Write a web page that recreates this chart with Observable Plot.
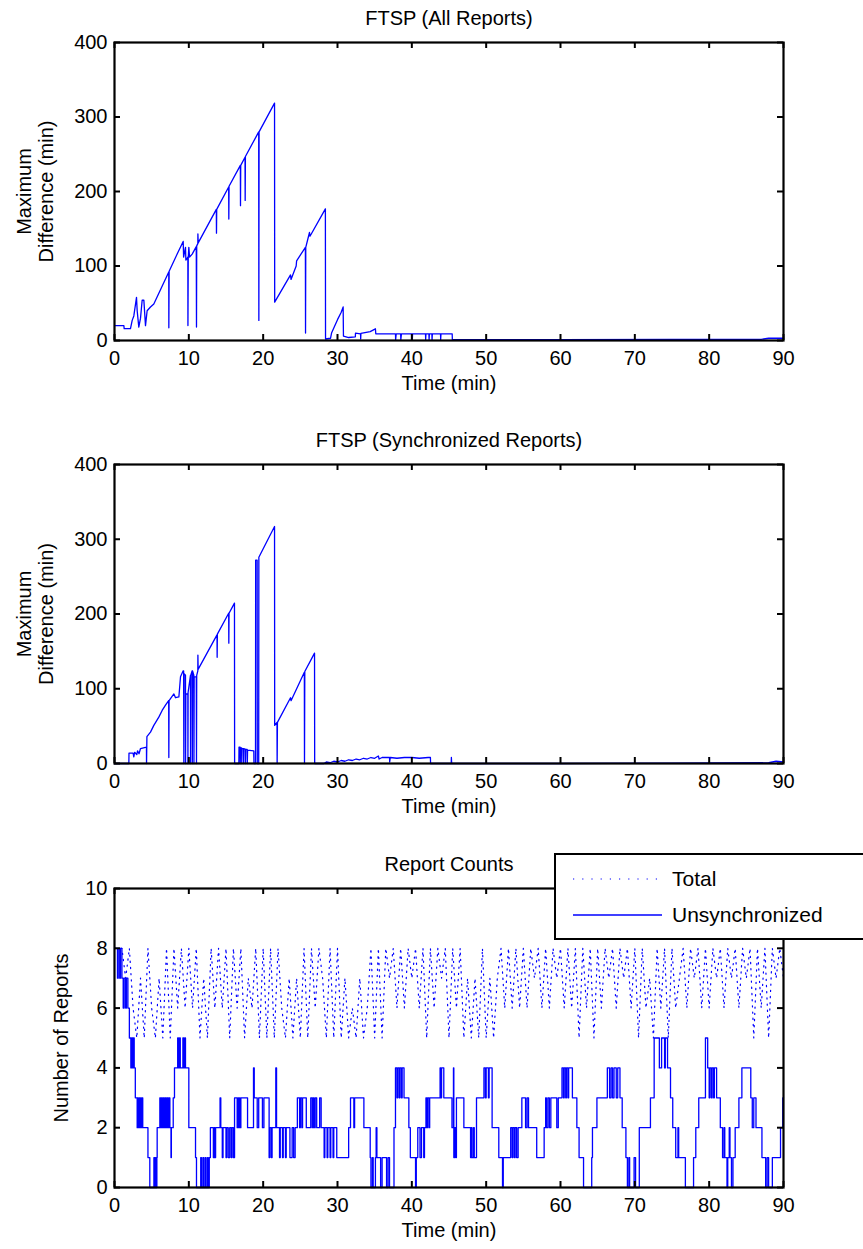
<!DOCTYPE html>
<html><head><meta charset="utf-8">
<script src="https://cdn.jsdelivr.net/npm/d3@7"></script>
<script src="https://cdn.jsdelivr.net/npm/@observablehq/plot@0.6"></script>
<style>
body{margin:0;background:#fff;overflow:hidden}
#wrap{position:relative;width:863px;height:1249px;overflow:hidden;font-family:"Liberation Sans",Arial,sans-serif;color:#000}
#wrap svg{display:block}
#legend{position:absolute;left:554px;top:853px;width:330px;height:83px;border:2px solid #000;background:#fff;font-size:21px}
#legend span{position:absolute;left:116px;line-height:22px;white-space:nowrap}
</style></head><body><div id="wrap"></div>
<script>
// ---- data ----
const xTicks = [0, 10, 20, 30, 40, 50, 60, 70, 80, 90];
const diffTicks = [0, 100, 200, 300, 400];
const countTicks = [0, 2, 4, 6, 8, 10];

// FTSP (All Reports): [time (min), max difference (min)]
const allReports = [
  [0,20],[1.26,20],[1.3,16],[2.15,16],[2.38,27],[2.6,33],[2.96,58],[3.05,40],[3.27,18],[3.5,30],[3.72,54],[3.95,54],
  [4.17,20],[4.39,40],[4.84,45],[5.29,49],[7.3,92],[7.31,17],[7.35,93],[8.43,116],[9.24,133],[9.3,112],[9.55,125],
  [9.6,108],[9.87,112],[9.88,20],[9.92,110],[10.0,125],[10.1,112],[10.45,116],[11.0,126],[11.03,18],[11.06,127],
  [11.21,130],[11.22,143],[11.26,131],[13.7,176],[13.72,144],[13.75,176],[15.36,206],[15.38,163],[15.41,207],
  [16.93,235],[16.95,181],[16.98,235],[17.56,246],[17.58,188],[17.61,247],[19.4,280],[19.42,27],[19.45,280],
  [21.53,318.6],[21.55,51.5],[23.68,88],[23.75,82],[24.44,100],[24.5,107],[25.68,125],[25.7,10],[25.73,125],
  [26.23,145],[26.3,140],[28.37,176.7],[28.39,2],[29.06,3],[29.2,10],[30.0,28],[30.5,38],[30.76,45],[30.8,6],
  [31.5,4],[32.4,5],[32.42,9.8],[33.1,9],[33.12,2],[33.15,9.5],[34.4,12],[35.1,15.7],[35.15,9],[37.8,9],[37.82,1],
  [37.9,9],[38.5,9],[38.52,1],[38.6,9],[40.05,9],[40.07,1],[40.1,9],[41.84,9],[41.86,1],[41.9,9],[42.3,9],[42.32,1],
  [42.36,9],[42.7,9],[42.72,1],[42.76,9],[43.86,9],[43.88,1],[43.92,9],[45.43,9],[45.45,1],[60,1],[75,1.5],[87,1.5],
  [88,3],[90,3]
];

// FTSP (Synchronized Reports)
const syncReports = [
  [0,0],[1.93,0],[1.95,14],[2.5,14],[2.6,9],[2.7,15],[3.0,12],[3.1,17],[3.3,13],[3.5,20],[4.3,22],[4.31,0],[4.36,36],
  [4.84,42],[5.29,51],[5.96,62],[6.41,71],[6.86,78],[7.29,84],[7.31,8],[7.34,84],[7.99,93],[8.21,88],[8.66,89],
  [8.88,116],[9.24,124],[9.3,124],[9.33,0],[9.36,120],[9.55,118],[9.56,0],[9.6,93],[9.87,93],[9.88,0],[9.9,95],
  [10.22,118],[10.23,0],[10.26,118],[10.45,124],[10.47,0],[10.5,124],[10.67,118],[10.69,0],[10.72,116],[11.0,116],
  [11.03,0],[11.06,118],[11.21,124],[11.22,145],[11.25,126],[13.79,172],[13.81,142],[13.84,173],[15.36,201],
  [15.38,161],[15.41,201],[16.14,214.5],[16.16,0],[16.73,0],[16.75,22],[16.9,22],[16.92,0],[16.95,21],[17.1,21],
  [17.12,0],[17.15,20],[17.35,20],[17.37,0],[17.4,20],[17.6,19],[17.62,0],[17.65,19],[17.85,19],[17.87,0],[17.9,18],
  [18.74,17],[18.76,0],[18.97,0],[18.99,272],[19.19,272],[19.21,0],[19.4,0],[19.42,276],[21.53,317],[21.55,51],
  [21.86,55],[21.88,0],[21.92,55],[23.68,88],[23.75,84],[25.54,122],[25.56,0],[25.6,123],[26.91,147.6],[26.93,0],
  [28.17,0],[28.5,2],[29,1],[29.5,3],[30,2],[30.5,4],[31,3],[31.5,5],[32,4],[32.5,6],[33,5],[33.5,7],[34,6],[34.5,8],
  [35,7],[35.5,10],[35.6,6],[36,8],[37,8],[37.02,2],[37.1,8],[38,7],[39,8],[40,8],[41,7],[42.2,8],[42.5,8],[42.52,0],
  [45.3,0],[45.32,8],[45.36,0],[60,0],[75,0.5],[88,1],[89,3],[90,2]
];

// Report Counts: unsynchronized (stepped) [time, count]
const unsynchronized = [
  [0,8],[0.4,7],[0.5,8],[0.7,7],[0.8,8],[1.0,7],[1.17,6],[1.3,7],[1.5,6],[1.6,7],[1.8,6],[2.0,5],[2.2,4],[2.3,5],
  [2.45,4],[2.55,5],[2.65,4],[2.8,3],[3.05,2],[3.1,3],[3.2,2],[3.3,3],[3.4,2],[3.5,3],[3.6,2],[3.7,3],[3.8,2],
  [4.5,1],[4.75,0],[5.3,1],[5.4,0],[5.5,1],[5.6,0],[5.7,1],[5.74,2],[6.1,3],[6.2,2],[6.3,3],[6.45,2],[6.55,3],
  [6.7,2],[6.8,3],[6.95,2],[7.05,3],[7.2,2],[7.3,3],[7.45,2],[7.6,1],[7.65,2],[7.9,3],[8.07,4],[8.5,5],[8.6,4],
  [8.75,5],[8.85,4],[9.2,5],[9.3,4],[9.45,5],[9.55,4],[10.0,2],[10.9,1],[11.03,0],[11.6,1],[11.7,0],[11.9,1],
  [12.0,0],[12.2,1],[12.3,0],[12.5,1],[12.6,0],[12.75,1],[12.9,2],[13.3,1],[13.4,2],[13.5,1],[13.6,2],[14.2,3],
  [14.3,2],[14.5,1],[14.6,2],[15.0,1],[15.1,2],[15.3,1],[15.5,2],[15.7,1],[15.8,2],[16.0,1],[16.15,3],[16.5,2],
  [16.6,3],[16.7,2],[16.8,3],[16.9,2],[17.0,3],[17.9,2],[18.7,4],[18.8,3],[19.2,2],[19.4,3],[19.9,2],[20.1,3],
  [20.8,1],[20.9,2],[21.1,1],[21.2,2],[21.7,4],[21.8,2],[22.2,1],[22.3,2],[22.6,1],[22.7,2],[23.0,1],[23.1,2],
  [23.6,1],[23.9,2],[24.1,1],[24.3,2],[24.6,3],[24.9,2],[25.0,3],[25.2,2],[25.3,3],[25.8,2],[26.4,3],[26.6,2],
  [26.7,3],[26.85,2],[27.0,3],[27.2,2],[27.6,3],[27.8,2],[28.2,1],[28.3,2],[28.6,1],[28.7,2],[29.0,1],[29.1,2],
  [29.4,1],[29.5,2],[29.9,1],[31.5,2],[31.75,3],[32.2,2],[32.3,3],[33.55,2],[34.4,1],[34.5,0],[34.7,1],[34.8,0],
  [35.1,1],[35.2,2],[35.3,1],[35.8,0],[36.0,1],[36.6,0],[36.8,1],[37.0,0],[37.6,2],[37.8,4],[38.0,3],[38.1,4],
  [38.3,3],[38.4,4],[38.6,3],[38.7,4],[38.95,3],[39.6,2],[39.8,1],[40.5,0],[40.6,1],[40.8,2],[41.1,1],[41.3,2],
  [41.6,1],[41.7,2],[41.9,3],[42.0,2],[42.1,3],[42.3,2],[42.4,3],[43.8,4],[43.9,3],[44.0,4],[44.3,3],[45.4,2],
  [45.6,4],[45.65,1],[45.75,2],[45.9,1],[46.0,3],[47.0,2],[47.9,1],[48.0,2],[48.1,1],[48.3,2],[48.4,1],[48.7,3],
  [49.7,4],[49.9,3],[50.0,4],[50.3,3],[50.4,4],[50.8,2],[51.7,1],[52.2,0],[52.3,1],[53.3,2],[53.5,1],[53.6,2],
  [53.8,1],[53.9,2],[54.1,1],[54.3,2],[54.8,3],[55.3,2],[55.5,3],[55.7,2],[56.8,1],[57.8,2],[58.0,3],[58.1,2],
  [58.3,3],[58.5,2],[58.7,3],[59.5,2],[59.7,3],[60.2,4],[60.4,3],[60.5,4],[60.7,3],[60.8,4],[61.0,3],[61.1,4],
  [61.6,3],[62.2,2],[62.5,1],[63.1,0],[64.2,1],[64.3,2],[64.9,3],[66.3,4],[66.6,3],[66.8,4],[67.0,3],[67.2,4],
  [67.5,3],[67.7,4],[68.0,3],[68.3,2],[68.8,1],[69.0,0],[69.2,1],[69.3,0],[69.9,1],[70.1,0],[70.6,2],[72.1,3],
  [72.6,5],[73.3,4],[73.6,5],[74.0,4],[74.1,5],[74.4,4],[74.8,3],[75.1,2],[75.5,1],[75.8,2],[75.9,1],[76.8,0],
  [77.9,1],[78.2,2],[78.6,3],[79.5,5],[79.8,4],[80.0,3],[80.1,4],[80.3,3],[80.4,4],[80.6,3],[80.7,4],[81.0,3],
  [81.5,2],[81.8,1],[82.0,2],[82.1,1],[82.4,0],[82.5,1],[82.7,2],[82.8,1],[83.0,0],[83.2,1],[83.5,2],[84.0,3],
  [84.4,4],[85.6,3],[85.8,2],[86.0,3],[86.3,2],[87.1,1],[87.6,0],[87.8,1],[88.0,0],[88.5,1],[89.6,2],[89.9,3],[90,3]
];

// Report Counts: total, sampled every half minute from t = 0
const totalStep = 0.5;
const totalCounts = [
  8,8,8,7,8,6,5,7,5,8,  6,5,7,5,8,5,8,6,8,6,  8,6,8,5,7,5,8,6,8,6,  8,5,8,6,8,5,7,6,8,5,
  8,5,8,5,8,6,5,7,5,7,  5,8,5,8,6,8,7,5,8,5,  8,5,7,5,6,5,7,5,6,8,  5,8,5,8,7,8,6,8,6,8,
  7,8,6,8,5,8,6,8,7,8,  5,8,6,8,5,7,5,7,5,8,  5,7,5,7,8,6,8,6,8,6,  8,6,8,7,8,6,8,6,8,7,
  8,6,8,6,8,5,8,6,8,5,  8,6,8,7,8,6,8,7,8,6,  8,5,8,6,7,5,8,6,8,5,  8,6,7,8,6,8,7,8,6,8,
  6,8,7,8,6,8,7,8,6,8,  7,8,5,8,6,8,5,8,7,8,7
];

// ---- drawing ----
const W = 863, ML = 114, MR = 80, FS = 20;
const BLUE = "#0000ff";

function panel({height, mt, mb, yDomain, yTicks, title, ylabel, ylabelDx, marks}) {
  const ph = height - mt - mb, pw = W - ML - MR;
  return Plot.plot({
    width: W, height,
    marginLeft: ML, marginRight: MR, marginTop: mt, marginBottom: mb,
    style: {fontFamily: "'Liberation Sans', Arial, sans-serif", fontSize: FS + "px", color: "#000", background: "#fff", overflow: "visible"},
    x: {domain: [0, 90]},
    y: {domain: yDomain},
    marks: [
      ...marks,
      Plot.frame({stroke: "#000", strokeWidth: 2.2}),
      Plot.tickX(xTicks, {x: d => d, insetTop: ph - 6, stroke: "#000", strokeWidth: 2}),
      Plot.tickX(xTicks, {x: d => d, insetBottom: ph - 6, stroke: "#000", strokeWidth: 2}),
      Plot.tickY(yTicks, {y: d => d, insetRight: pw - 6, stroke: "#000", strokeWidth: 2}),
      Plot.tickY(yTicks, {y: d => d, insetLeft: pw - 6, stroke: "#000", strokeWidth: 2}),
      Plot.axisX(xTicks, {anchor: "bottom", tickSize: 0, tickPadding: 10, label: null}),
      Plot.axisY(yTicks, {anchor: "left", tickSize: 0, tickPadding: 7, label: null}),
      Plot.text([title], {text: d => d, frameAnchor: "top", dy: -24, lineAnchor: "middle"}),
      Plot.text(["Time (min)"], {text: d => d, frameAnchor: "bottom", dy: 43, lineAnchor: "middle"}),
      Plot.text([ylabel], {text: d => d, frameAnchor: "left", dx: ylabelDx, rotate: -90, lineAnchor: "middle", textAnchor: "middle", lineHeight: 1.1})
    ]
  });
}

const wrap = document.getElementById("wrap");

wrap.appendChild(panel({
  height: 424, mt: 42, mb: 84, yDomain: [0, 400], yTicks: diffTicks,
  title: "FTSP (All Reports)", ylabel: "Maximum\nDifference (min)", ylabelDx: -80,
  marks: [Plot.line(allReports, {x: d => d[0], y: d => d[1], stroke: BLUE, strokeWidth: 1.3})]
}));

wrap.appendChild(panel({
  height: 424, mt: 40, mb: 85, yDomain: [0, 400], yTicks: diffTicks,
  title: "FTSP (Synchronized Reports)", ylabel: "Maximum\nDifference (min)", ylabelDx: -80,
  marks: [Plot.line(syncReports, {x: d => d[0], y: d => d[1], stroke: BLUE, strokeWidth: 1.3})]
}));

wrap.appendChild(panel({
  height: 401, mt: 40, mb: 62, yDomain: [0, 10], yTicks: countTicks,
  title: "Report Counts", ylabel: "Number of Reports", ylabelDx: -54,
  marks: [
    Plot.line(totalCounts, {x: (d, i) => i * totalStep, y: d => d, stroke: BLUE, strokeWidth: 1.2, strokeDasharray: "1.2,5"}),
    Plot.line(unsynchronized, {x: d => d[0], y: d => d[1], curve: "step-after", stroke: BLUE, strokeWidth: 1.3})
  ]
}));

// legend
const legend = document.createElement("div");
legend.id = "legend";
legend.innerHTML = `
  <svg width="110" height="83" style="position:absolute;left:0;top:0">
    <line x1="17" y1="24" x2="105" y2="24" stroke="${BLUE}" stroke-width="1.2" stroke-dasharray="1.2,8"/>
    <line x1="17" y1="60" x2="106" y2="60" stroke="${BLUE}" stroke-width="1.3"/>
  </svg>
  <span style="top:13px">Total</span>
  <span style="top:49px">Unsynchronized</span>`;
wrap.appendChild(legend);
</script></body></html>
